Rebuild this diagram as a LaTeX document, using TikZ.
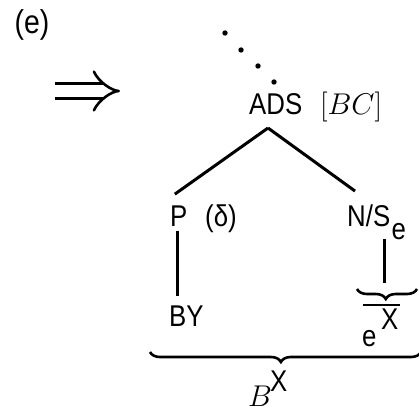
\RequirePackage{fix-cm}
\documentclass[tikz,border=0pt]{standalone}
\usepackage{fontspec}
\setmainfont{Liberation Sans}[FakeStretch=0.86]
\usetikzlibrary{decorations.pathreplacing,arrows.meta}

\tikzset{
  lbl/.style={inner sep=0pt, anchor=base west, font=\fontsize{30}{34}\selectfont},
  branch/.style={line width=3pt},
  curly/.style={decorate, line width=2.6pt,
    decoration={brace, mirror, amplitude=10pt, aspect=0.48}},
}

\begin{document}
\begin{tikzpicture}[x=1pt, y=1pt]
  \useasboundingbox (0,0) rectangle (419,411);

  \node[lbl, anchor=center, font=\fontsize{33}{36}\selectfont] (tag) at (32,386) {(e)};
  \coordinate (arrL) at (55,320);
  \coordinate (arrR) at (120,320);
  \draw[line width=2.6pt, double distance=12pt, -{Implies}] (arrL) -- (arrR);

  % dots above the root
  \foreach \px/\py in {225/378, 241/361, 258/345, 274/329}
    \fill (\px,\py) circle (2.7);

  \node[lbl] (ADS) at (249,296) {ADS};
  \node[lbl] (BC) at (320,296) {$[BC]$};
  \coordinate (apex) at (268,283);

  \node[lbl] (P) at (170,184) {P};
  \node[lbl] (delta) at (205,184) {(δ)};
  \node[lbl] (NS) at (347,184) {N/S};
  \node[lbl] (Se) at ([xshift=1pt,yshift=-13pt]NS.base east) {e};
  \node[lbl] (BY) at (169,84) {BY};

  \draw[branch] (apex) -- ([xshift=-4pt,yshift=12pt]P.north);
  \draw[branch] (apex) -- ([xshift=8pt,yshift=14pt]NS.north west);
  \draw[branch] ([xshift=-1pt,yshift=-4pt]P.south) -- ([xshift=-1pt,yshift=10pt]P.south |- BY.north);

  % small brace under N/S
  \coordinate (sbTop) at (384,128);
  \coordinate (sbL) at (357,122);
  \coordinate (sbR) at (417,122);
  \draw[branch] ([yshift=-12pt]sbTop |- NS.south) -- (sbTop);
  \draw[curly] (sbL) -- (sbR);
  \coordinate (barL) at (363,106);
  \coordinate (barR) at (400,106);
  \draw[line width=1.8pt] (barL) -- (barR);
  \node[lbl] (e) at (362,64) {e};
  \node[lbl] (eX) at (381,81) {X};

  % big brace
  \coordinate (bbL) at (150,59);
  \coordinate (bbR) at (421,59);
  \draw[curly, decoration={aspect=0.483}] (bbL) -- (bbR);
  \node[lbl] (B) at (248,5) {$B$};
  \node[lbl] (BX) at (270,19) {X};
\end{tikzpicture}
\end{document}
